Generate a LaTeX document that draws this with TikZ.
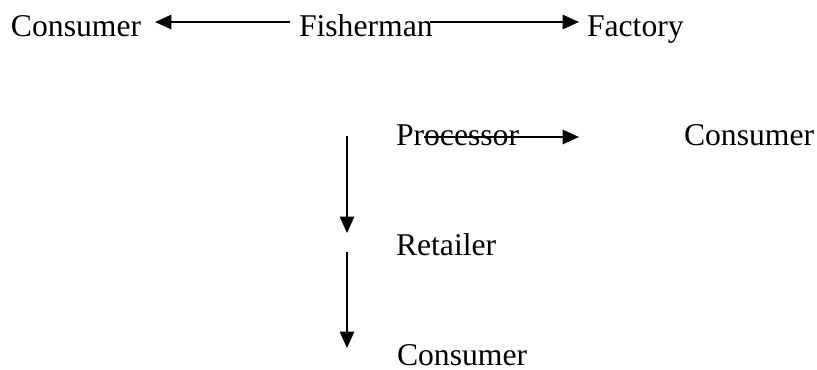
\documentclass[tikz,border=0pt]{standalone}
\usepackage{fontspec}
\setmainfont{Liberation Serif}
\usepackage{tikz}
\usetikzlibrary{arrows.meta}

\begin{document}
\begin{tikzpicture}[x=0.379pt,y=-0.379pt,font=\fontsize{12}{14}\selectfont,
  lbl/.style={anchor=base west,inner sep=0pt,outer sep=0pt},
  ar/.style={-{Triangle[length=6.2pt,width=5.4pt]},line width=0.75pt,black}]
\useasboundingbox (0,0) rectangle (817,369);
% top row
\node[lbl] (cons1) at (11,36) {Consumer};
\node[lbl] (fish) at (299,36) {Fisherman};
\node[lbl] (fact) at (587,36) {Factory};
\coordinate (fishL) at (290,22);
\coordinate (consR) at (155,22);
\coordinate (fishR) at (430,22);
\coordinate (factL) at (579,22);
\draw[ar] (fishL) -- (consR);
\draw[ar] (fishR) -- (factL);
% processing chain
\node[lbl] (proc) at (396,145) {Processor};
\node[lbl] (cons2) at (684,145) {Consumer};
\node[lbl] (ret) at (396,255) {Retailer};
\node[lbl] (cons3) at (397,365) {Consumer};
\coordinate (procR) at (424,137);
\coordinate (procE) at (579,137);
\draw[ar] (procR) -- (procE);
\coordinate (v1a) at (347,136);
\coordinate (v1b) at (347,233);
\coordinate (v2a) at (347,252);
\coordinate (v2b) at (347,348);
\draw[ar] (v1a) -- (v1b);
\draw[ar] (v2a) -- (v2b);
\end{tikzpicture}
\end{document}
